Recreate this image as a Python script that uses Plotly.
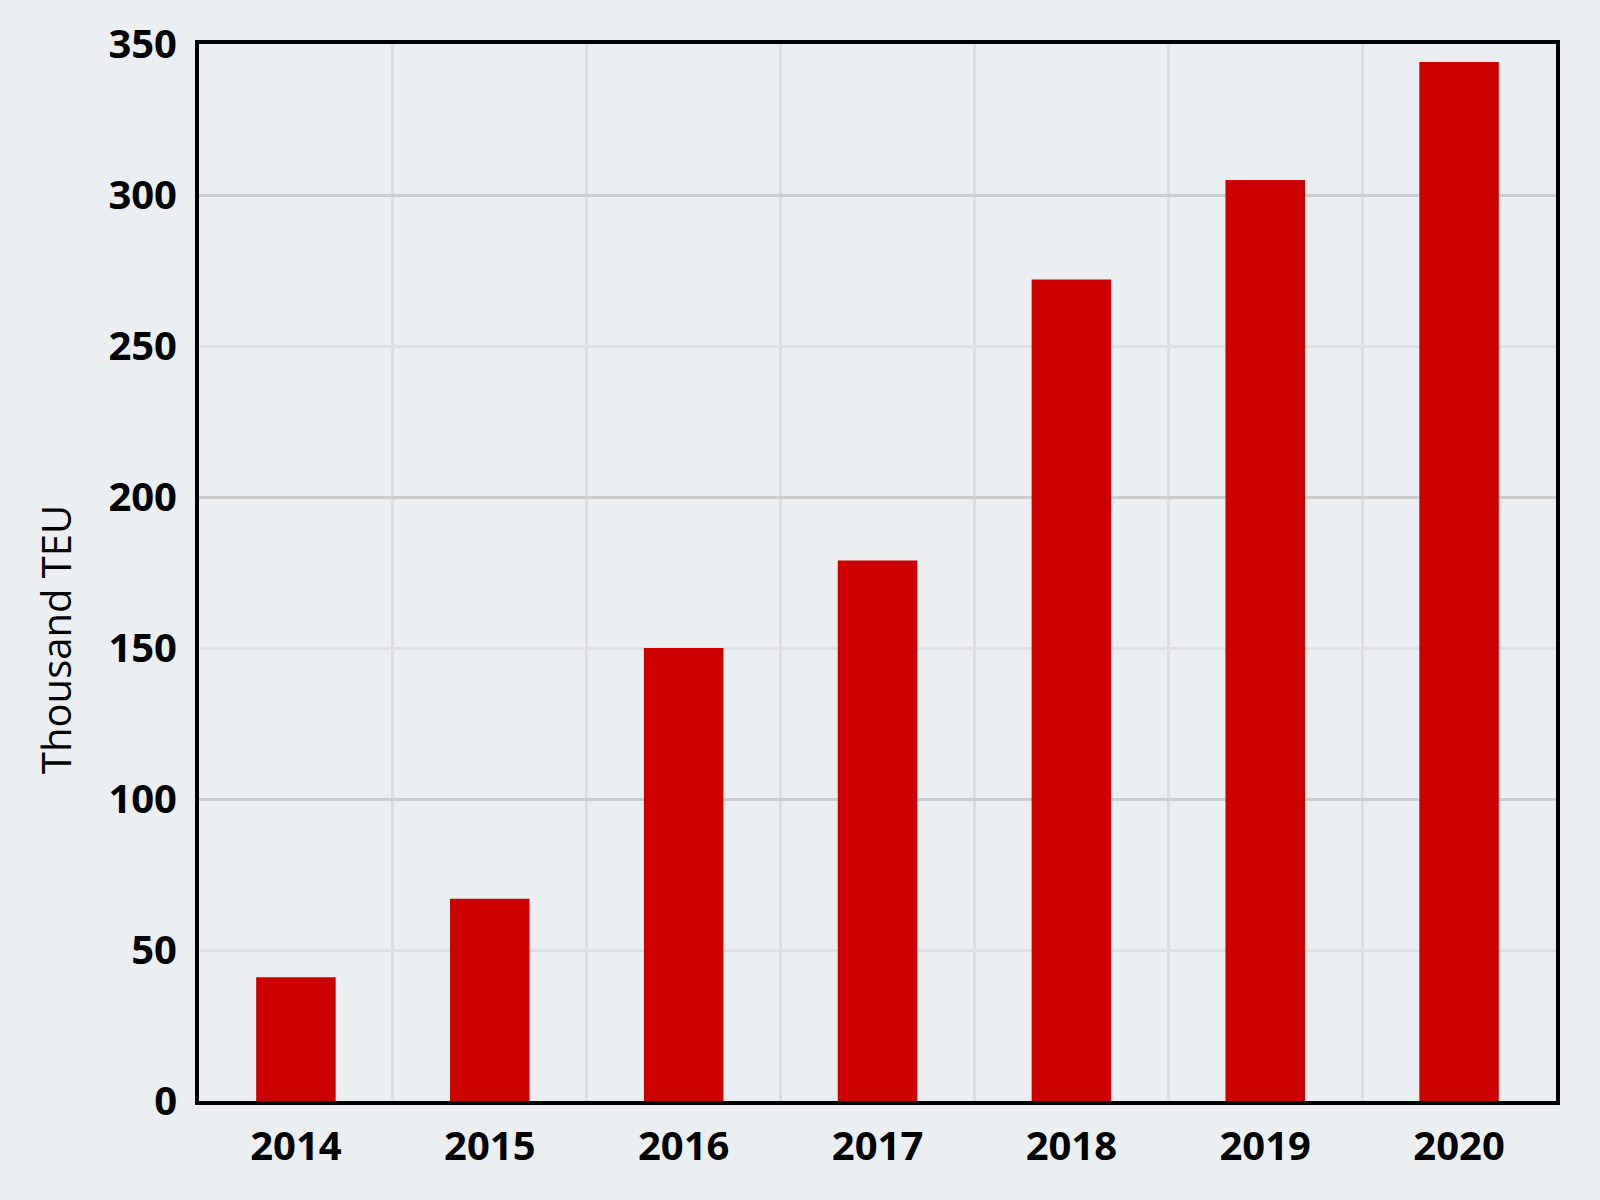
import plotly.graph_objects as go

years = ["2014", "2015", "2016", "2017", "2018", "2019", "2020"]
teu = [41, 67, 150, 179, 272, 305, 344]
y_ticks = [0, 50, 100, 150, 200, 250, 300, 350]
y_major = [100, 200, 300]

BG = "#EBEFF2"
BAR = "#CC0000"
FONT = "Open Sans"

fig = go.Figure()
fig.add_trace(go.Bar(x=years, y=teu, marker=dict(color=BAR, line=dict(width=0)),
                     showlegend=False, hoverinfo="x+y"))
# invisible trace to anchor the overlay axis carrying the darker 100-step grid
fig.add_trace(go.Scatter(x=years, y=teu, yaxis="y2", mode="markers",
                         marker=dict(opacity=0), showlegend=False, hoverinfo="skip"))

L, R, T, B = 199, 44, 44, 99
W, H = 1600, 1200

fig.update_layout(
    width=W, height=H,
    paper_bgcolor=BG, plot_bgcolor=BG,
    margin=dict(l=L, r=R, t=T, b=B, pad=0),
    bargap=0.59,
    font=dict(family=FONT, color="#000000"),
    xaxis=dict(
        type="category", tickson="boundaries",
        showgrid=True, gridcolor="#DCDEE0", gridwidth=3,
        ticks="", ticklen=0,
        tickfont=dict(family=FONT, size=40, color="#000000", weight="bold"),
        showline=True, linecolor="#000000", linewidth=4, mirror=True,
        zeroline=False, ticklabelstandoff=7,
    ),
    yaxis=dict(
        range=[0, 350], tickvals=y_ticks, ticktext=[str(v) for v in y_ticks],
        showgrid=True, gridcolor="#DEE0E2", gridwidth=3,
        ticks="", zeroline=False,
        tickfont=dict(family=FONT, size=40, color="#000000", weight="bold"),
        showline=True, linecolor="#000000", linewidth=4, mirror=True,
        ticklabelstandoff=10,
    ),
    yaxis2=dict(
        range=[0, 350], overlaying="y", side="left",
        tickvals=y_major, showticklabels=False,
        showgrid=True, gridcolor="#CCCCCC", gridwidth=3,
        ticks="", zeroline=False, showline=False,
    ),
    annotations=[dict(
        text="Thousand TEU", textangle=-90,
        xref="paper", yref="paper",
        x=(55 - L) / (W - L - R), y=(H - B - 640) / (H - T - B),
        xanchor="center", yanchor="middle", showarrow=False,
        font=dict(family=FONT, size=40, color="#000000"),
    )],
)

fig.write_html("out.html", config={"displayModeBar": False},
               post_script="document.body.style.margin='0';")
